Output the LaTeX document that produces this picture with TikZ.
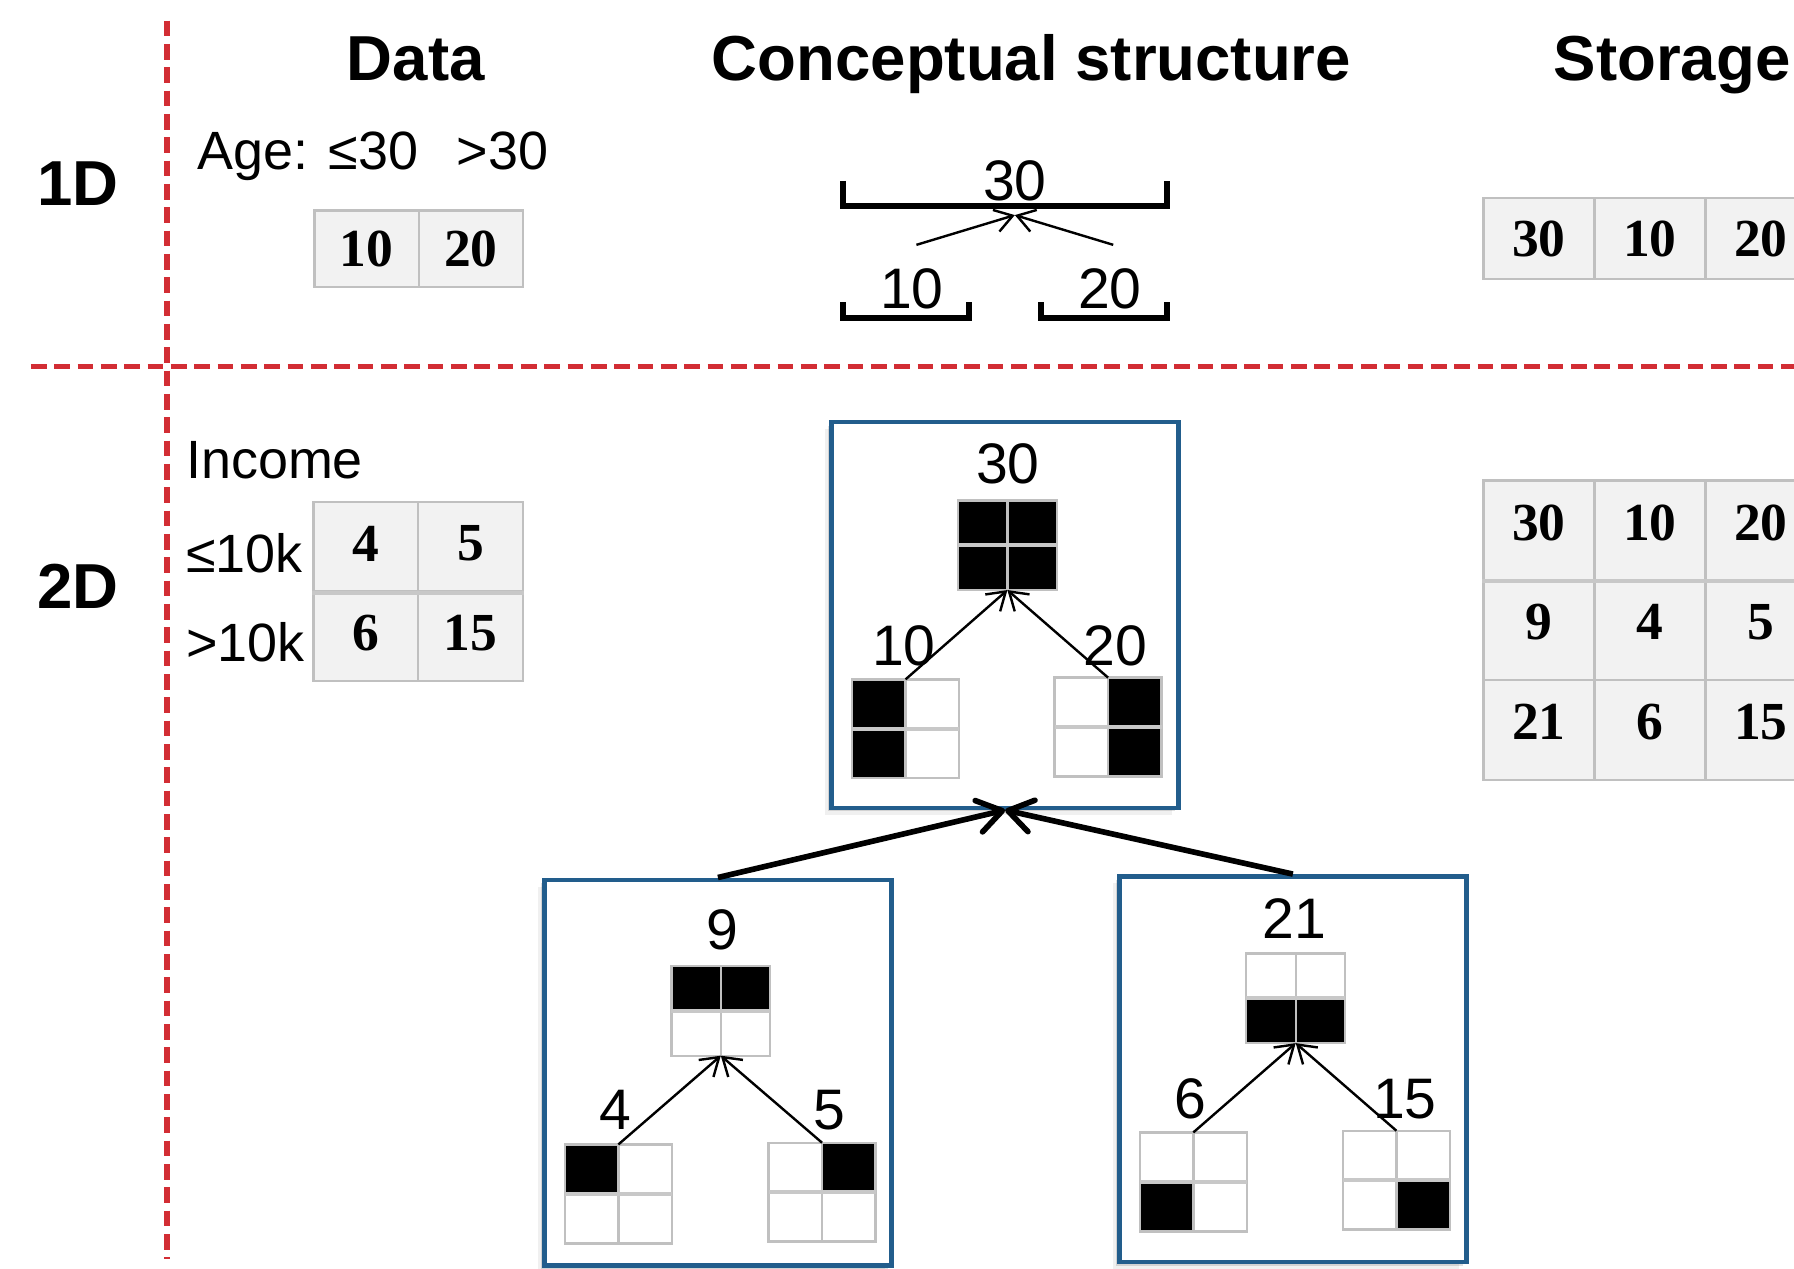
\documentclass[tikz,border=0pt]{standalone}
\usepackage{fontspec}
\setmainfont{Liberation Sans}
\newfontfamily\numfont{Liberation Serif}
\usetikzlibrary{arrows.meta,shadows}

\definecolor{sepred}{RGB}{210,45,52}
\definecolor{boxblue}{RGB}{34,93,140}
\definecolor{cellfill}{RGB}{242,242,242}
\definecolor{cellline}{RGB}{192,192,192}
\definecolor{midline}{RGB}{200,200,200}

\newcommand\headfont{\fontsize{15.8}{18}\selectfont\bfseries}
\newcommand\labfont{\fontsize{13.4}{16}\selectfont}
\newcommand\conceptfont{\fontsize{14.2}{17}\selectfont}
\newcommand\cellfont{\fontsize{13.3}{15}\selectfont\numfont\bfseries}

% 2x2 occupancy grid: name, size style, position, fills TL TR BL BR
\newcommand\cellquad[7]{%
  \node[#2, inner sep=0pt] (#1) at #3 {};
  \fill[#4] (#1.north west) rectangle (#1.center);
  \fill[#5] (#1.north) rectangle (#1.east);
  \fill[#6] (#1.west) rectangle (#1.south);
  \fill[#7] (#1.center) rectangle (#1.south east);
  \draw[gridline] (#1.north west) rectangle (#1.south east);
  \draw[gridline] (#1.north) -- (#1.south);
  \draw[gridmid] (#1.west) -- (#1.east);
}

\begin{document}
\begin{tikzpicture}[x=0.01cm, y=-0.01cm,
  sep/.style={draw=sepred, line width=1.3pt, dash pattern=on 3.9pt off 1.9pt},
  head/.style={font=\headfont, anchor=base, inner sep=0pt},
  rowhead/.style={font=\headfont, anchor=base west, inner sep=0pt},
  lab/.style={font=\labfont, anchor=base west, inner sep=0pt},
  clab/.style={font=\conceptfont, anchor=base, inner sep=0pt},
  cell/.style={draw=cellline, fill=cellfill, line width=0.6pt, font=\cellfont, inner sep=0pt},
  dcellA/.style={cell, minimum width=0.91cm, minimum height=0.67cm},
  dcellB/.style={cell, minimum width=0.915cm, minimum height=0.78cm, text depth=0.06cm},
  scellA/.style={cell, minimum width=0.97cm, minimum height=0.71cm},
  scellB/.style={cell, minimum width=0.97cm, minimum height=0.873cm, text depth=0.14cm},
  rowsplit/.style={draw=midline, line width=1pt},
  bracket/.style={draw=black, line width=1.4pt},
  thinarrow/.style={draw=black, line width=0.6pt,
    -{Straight Barb[length=4.3pt, width=5.6pt]}},
  thickarrow/.style={draw=black, line width=1.4pt,
    -{Straight Barb[round, length=6pt, width=8pt]}},
  shadowed/.style={
    general shadow={shadow xshift=-0.3mm, shadow yshift=-0.3mm, draw=none, fill=black, opacity=0.12},
    general shadow={shadow xshift=-0.6mm, shadow yshift=-0.6mm, draw=none, fill=black, opacity=0.06}},
  cbox/.style={shadowed, draw=boxblue, line width=1.1pt, fill=white, inner sep=0pt,
    minimum width=3.03cm, minimum height=3.37cm},
  topgrid/.style={minimum width=0.85cm, minimum height=0.77cm},
  leafgrid/.style={minimum width=0.92cm, minimum height=0.85cm},
  gridline/.style={draw=cellline, line width=0.6pt},
  gridmid/.style={draw=midline, line width=1pt},
]
\useasboundingbox (0,0) rectangle (1568,1109);
\clip (0,0) rectangle (1568,1109);
\fill[white] (0,0) rectangle (1568,1109);

% separators
\draw[sep] (146,18) -- (146,1100);
\draw[sep] (27,320) -- (1568,320);

% column and row headings
\node[head] (hdata) at (363.5,70) {Data};
\node[head] (hconcept) at (901.5,70) {Conceptual structure};
\node[head] (hstorage) at (1461.5,70) {Storage};
\node[rowhead] (h1d) at (32,180) {1D};
\node[rowhead] (h2d) at (32,532) {2D};

% ---- 1D data
\node[lab] (age) at (172,148) {Age: ≤30\hspace{0.72em}>30};
\node[dcellA] (d10) at (320.5,217.5) {10};
\node[dcellA] (d20) at (411.5,217.5) {20};

% ---- 1D conceptual structure
\node[clab] (c30) at (887,175) {30};
\node[clab] (c10) at (797,270) {10};
\node[clab] (c20) at (970,270) {20};
\draw[bracket] (737,158) -- (737,180) -- (1020,180) -- (1020,158);
\draw[bracket] (737,264) -- (737,278) -- (847,278) -- (847,264);
\draw[bracket] (910,264) -- (910,278) -- (1020,278) -- (1020,264);
\coordinate (t30) at (887,188);
\coordinate (a10) at (801,214);
\coordinate (a20) at (973,214);
\draw[thinarrow] (a10) -- (t30);
\draw[thinarrow] (a20) -- (t30);

% ---- 1D storage
\node[scellA] (s30) at (1345,208.5) {30};
\node[scellA] (s10) at (1442,208.5) {10};
\node[scellA] (s20) at (1539,208.5) {20};

% ---- 2D data
\node[lab] (income) at (162,418) {Income};
\node[lab] (low) at (162,500) {≤10k};
\node[lab] (high) at (162,578) {>10k};
\node[dcellB] (d4) at (319.75,478) {4};
\node[dcellB] (d5) at (411.25,478) {5};
\node[dcellB] (d6) at (319.75,556) {6};
\node[dcellB] (d15) at (411.25,556) {15};
\draw[rowsplit] (d4.south west) -- (d5.south east);

% ---- 2D storage
\node[scellB] (t1a) at (1345,463.5) {30};
\node[scellB] (t1b) at (1442,463.5) {10};
\node[scellB] (t1c) at (1539,463.5) {20};
\node[scellB] (t2a) at (1345,550.8) {9};
\node[scellB] (t2b) at (1442,550.8) {4};
\node[scellB] (t2c) at (1539,550.8) {5};
\node[scellB] (t3a) at (1345,638.1) {21};
\node[scellB] (t3b) at (1442,638.1) {6};
\node[scellB] (t3c) at (1539,638.1) {15};
\draw[rowsplit] (t1a.south west) -- (t1c.south east);

% ---- 2D conceptual structure: boxes
\node[cbox] (btop) at (878.5,537.5) {};
\node[cbox] (bleft) at (627.5,937.5) {};
\node[cbox] (bright) at (1130,934.5) {};
\draw[thickarrow] (bleft.north) -- (btop.south);
\draw[thickarrow] (bright.north) -- (btop.south);

% top box
\node[clab] (l30) at (881,423) {30};
\node[clab] (l10) at (790,582) {10};
\node[clab] (l20) at (975,582) {20};
\cellquad{g30}{topgrid}{(880.5,476.5)}{black}{black}{black}{black}
\cellquad{g10}{leafgrid}{(791.5,637)}{black}{white}{black}{white}
\cellquad{g20}{leafgrid}{(968.5,635.5)}{white}{black}{white}{black}
\draw[thinarrow] (g10.north) -- (g30.south);
\draw[thinarrow] (g20.north) -- (g30.south);

% lower left box
\node[clab] (l9) at (631,830) {9};
\node[clab] (l4) at (538,987) {4};
\node[clab] (l5) at (725,987) {5};
\cellquad{g9}{topgrid}{(630,883.5)}{black}{black}{white}{white}
\cellquad{g4}{leafgrid}{(540.5,1043.5)}{black}{white}{white}{white}
\cellquad{g5}{leafgrid}{(718.5,1042)}{white}{black}{white}{white}
\draw[thinarrow] (g4.north) -- (g9.south);
\draw[thinarrow] (g5.north) -- (g9.south);

% lower right box
\node[clab] (l21) at (1131,820) {21};
\node[clab] (l6) at (1040,978) {6};
\node[clab] (l15) at (1228,978) {15};
\cellquad{g21}{topgrid}{(1132.5,872.5)}{white}{white}{black}{black}
\cellquad{g6}{leafgrid}{(1043,1033)}{white}{white}{black}{white}
\cellquad{g15}{leafgrid}{(1220.5,1031.5)}{white}{white}{white}{black}
\draw[thinarrow] (g6.north) -- (g21.south);
\draw[thinarrow] (g15.north) -- (g21.south);
\end{tikzpicture}
\end{document}
